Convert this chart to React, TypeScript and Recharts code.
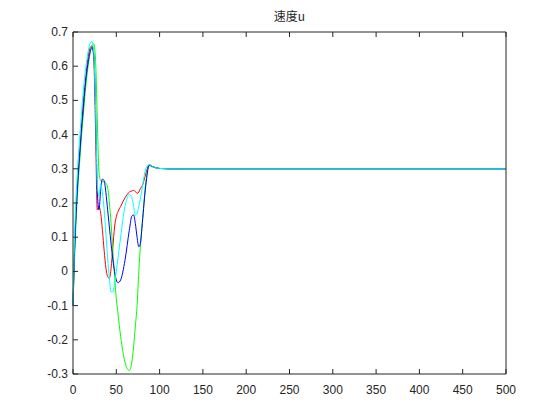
import { LineChart, Line, XAxis, YAxis } from "recharts";

const xs = [0, 2, 4, 6, 8, 10, 12, 14, 16, 18, 20, 22, 24, 26, 28, 30, 32, 34, 36, 38, 40, 42, 44, 46, 48, 50, 52, 55, 60, 65, 68, 70, 72, 74, 76, 78, 80, 84, 88, 92, 100, 110, 120, 500];

const red = [-0.1, 0.08, 0.2, 0.29, 0.36, 0.43, 0.5, 0.55, 0.6, 0.635, 0.655, 0.66, 0.62, 0.42, 0.18, 0.19, 0.17, 0.12, 0.06, 0.01, -0.015, -0.02, 0.01, 0.07, 0.13, 0.16, 0.175, 0.19, 0.215, 0.232, 0.235, 0.237, 0.234, 0.228, 0.232, 0.243, 0.25, 0.285, 0.312, 0.306, 0.301, 0.3, 0.3, 0.3];
const green = [-0.1, 0.05, 0.17, 0.26, 0.33, 0.4, 0.46, 0.52, 0.57, 0.61, 0.64, 0.66, 0.665, 0.62, 0.45, 0.29, 0.265, 0.262, 0.262, 0.258, 0.245, 0.2, 0.14, 0.06, -0.01, -0.08, -0.125, -0.19, -0.265, -0.29, -0.265, -0.22, -0.16, -0.1, 0.0, 0.08, 0.14, 0.26, 0.31, 0.307, 0.301, 0.3, 0.3, 0.3];
const blue = [-0.1, 0.07, 0.19, 0.28, 0.35, 0.42, 0.48, 0.54, 0.585, 0.62, 0.645, 0.655, 0.635, 0.48, 0.24, 0.18, 0.24, 0.27, 0.265, 0.23, 0.18, 0.13, 0.08, 0.035, 0.0, -0.025, -0.033, -0.025, 0.032, 0.12, 0.162, 0.165, 0.14, 0.1, 0.072, 0.085, 0.14, 0.25, 0.31, 0.306, 0.301, 0.3, 0.3, 0.3];
const cyan = [-0.1, 0.12, 0.24, 0.33, 0.4, 0.47, 0.53, 0.58, 0.62, 0.65, 0.668, 0.672, 0.64, 0.48, 0.26, 0.22, 0.255, 0.23, 0.18, 0.11, 0.04, -0.02, -0.06, -0.06, -0.035, 0.0, 0.04, 0.1, 0.19, 0.225, 0.215, 0.19, 0.164, 0.17, 0.19, 0.215, 0.245, 0.3, 0.312, 0.306, 0.301, 0.3, 0.3, 0.3];

const xTicks = [0, 50, 100, 150, 200, 250, 300, 350, 400, 450, 500];
const yTicks = [-0.3, -0.2, -0.1, 0, 0.1, 0.2, 0.3, 0.4, 0.5, 0.6, 0.7];

const data = xs.map((x, i) => ({ x, red: red[i], green: green[i], blue: blue[i], cyan: cyan[i] }));

const ink = "#262626";
const font = "'Liberation Sans', Arial, sans-serif";

function fmt(v: number) {
  return String(Number(v.toFixed(1)));
}

function BottomTick({ x, y, payload }: any) {
  return (
    <g>
      <line x1={x} x2={x} y1={y} y2={y - 5} stroke={ink} />
      <text x={x} y={y + 20} textAnchor="middle" fill={ink} fontSize={12} fontFamily={font}>
        {payload.value}
      </text>
    </g>
  );
}

function TopTick({ x, y }: any) {
  return <line x1={x} x2={x} y1={y} y2={y + 5} stroke={ink} />;
}

function LeftTick({ x, y, payload }: any) {
  return (
    <g>
      <line x1={x} x2={x + 5} y1={y} y2={y} stroke={ink} />
      <text x={x - 5} y={y + 4} textAnchor="end" fill={ink} fontSize={12} fontFamily={font}>
        {fmt(payload.value)}
      </text>
    </g>
  );
}

function RightTick({ x, y }: any) {
  return <line x1={x} x2={x - 5} y1={y} y2={y} stroke={ink} />;
}

export default function App() {
  return (
    <div style={{ position: "absolute", left: 0, top: 0, width: 560, height: 420, background: "#fff" }}>
      <div
        style={{
          position: "absolute",
          left: 73,
          width: 433,
          top: 7,
          textAlign: "center",
          fontFamily: "'Noto Sans CJK SC', sans-serif",
          fontSize: 12,
          color: ink,
        }}
      >
        速度u
      </div>
      <LineChart width={560} height={420} data={data} margin={{ top: 31, right: 53, bottom: 0, left: 0 }}>
        <XAxis
          dataKey="x"
          type="number"
          domain={[0, 500]}
          ticks={xTicks}
          interval={0}
          height={46}
          tickSize={0}
          tickMargin={0}
          tickLine={false}
          axisLine={{ stroke: ink }}
          tick={<BottomTick />}
        />
        <XAxis
          xAxisId="t"
          orientation="top"
          dataKey="x"
          type="number"
          domain={[0, 500]}
          ticks={xTicks}
          interval={0}
          height={1}
          tickSize={0}
          tickMargin={0}
          tickLine={false}
          axisLine={{ stroke: ink }}
          tick={<TopTick />}
        />
        <YAxis
          type="number"
          domain={[-0.3, 0.7]}
          ticks={yTicks}
          interval={0}
          width={73}
          tickSize={0}
          tickMargin={0}
          tickLine={false}
          axisLine={{ stroke: ink }}
          tick={<LeftTick />}
        />
        <YAxis
          yAxisId="r"
          orientation="right"
          type="number"
          domain={[-0.3, 0.7]}
          ticks={yTicks}
          interval={0}
          width={1}
          tickSize={0}
          tickMargin={0}
          tickLine={false}
          axisLine={{ stroke: ink }}
          tick={<RightTick />}
        />
        <Line type="monotone" dataKey="red" stroke="#ff0000" strokeWidth={1} dot={false} isAnimationActive={false} />
        <Line type="monotone" dataKey="green" stroke="#00ff00" strokeWidth={1} dot={false} isAnimationActive={false} />
        <Line type="monotone" dataKey="blue" stroke="#0000ff" strokeWidth={1} dot={false} isAnimationActive={false} />
        <Line type="monotone" dataKey="cyan" stroke="#00ffff" strokeWidth={1} dot={false} isAnimationActive={false} />
      </LineChart>
    </div>
  );
}
